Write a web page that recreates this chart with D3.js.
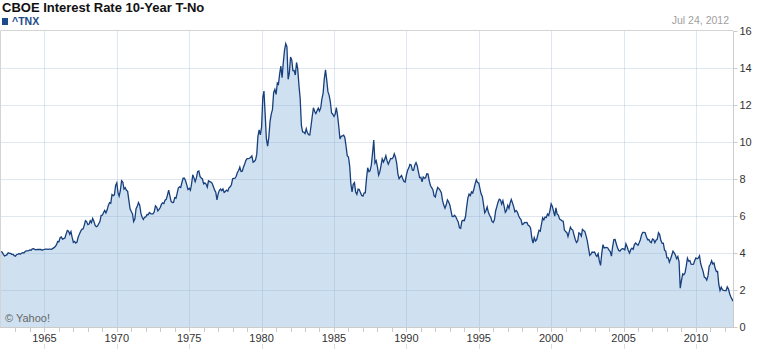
<!DOCTYPE html>
<html>
<head>
<meta charset="utf-8">
<script src="https://cdn.jsdelivr.net/npm/d3@7"></script>
<style>
  body { margin: 0; background: #fff; }
  text { font-family: Arial, "Liberation Sans", sans-serif; }
</style>
</head>
<body>
<script>
// ^TNX monthly closes, Jan 1962 .. Jul 2012
var startYear = 1962;
var tnxValues = [
  4.08, 4.04, 3.93, 3.84, 3.87, 3.91, 4.01, 3.98, 3.98, 3.93, 3.92, 3.86, // 1962
  3.83, 3.92, 3.93, 3.97, 3.93, 3.99, 4.02, 4.00, 4.08, 4.11, 4.12, 4.13, // 1963
  4.17, 4.15, 4.22, 4.23, 4.20, 4.17, 4.19, 4.19, 4.20, 4.19, 4.15, 4.18, // 1964
  4.19, 4.21, 4.21, 4.20, 4.21, 4.21, 4.20, 4.25, 4.29, 4.35, 4.45, 4.62, // 1965
  4.61, 4.83, 4.87, 4.75, 4.78, 4.81, 5.02, 5.22, 5.18, 5.01, 5.16, 4.84, // 1966
  4.58, 4.63, 4.54, 4.59, 4.85, 5.02, 5.16, 5.28, 5.30, 5.48, 5.75, 5.70, // 1967
  5.53, 5.56, 5.74, 5.64, 5.87, 5.72, 5.50, 5.42, 5.46, 5.58, 5.70, 6.03, // 1968
  6.04, 6.19, 6.30, 6.17, 6.32, 6.57, 6.72, 6.69, 7.16, 7.10, 7.14, 7.65, // 1969
  7.79, 7.24, 7.07, 7.39, 7.91, 7.84, 7.46, 7.53, 7.39, 7.33, 6.84, 6.39, // 1970
  6.24, 6.11, 5.70, 5.83, 6.39, 6.52, 6.73, 6.58, 6.14, 5.93, 5.81, 5.93, // 1971
  5.95, 6.08, 6.07, 6.19, 6.13, 6.11, 6.11, 6.21, 6.55, 6.48, 6.28, 6.36, // 1972
  6.46, 6.64, 6.71, 6.67, 6.85, 6.90, 7.13, 7.40, 7.09, 6.79, 6.73, 6.74, // 1973
  6.99, 6.96, 7.21, 7.51, 7.58, 7.54, 7.81, 8.04, 8.04, 7.90, 7.68, 7.43, // 1974
  7.50, 7.39, 7.73, 8.23, 8.06, 7.86, 8.06, 8.40, 8.43, 8.14, 8.05, 8.00, // 1975
  7.74, 7.79, 7.73, 7.56, 7.90, 7.86, 7.83, 7.77, 7.59, 7.41, 7.29, 6.87, // 1976
  7.21, 7.39, 7.46, 7.37, 7.46, 7.28, 7.33, 7.40, 7.34, 7.52, 7.58, 7.69, // 1977
  8.01, 8.03, 8.04, 8.15, 8.35, 8.46, 8.64, 8.41, 8.42, 8.64, 8.81, 9.01, // 1978
  9.10, 9.10, 9.12, 9.18, 9.25, 8.91, 8.95, 9.03, 9.33, 10.30, 10.65, 10.39, // 1979
  10.80, 12.41, 12.75, 11.47, 10.18, 9.78, 10.25, 11.10, 11.51, 11.75, 12.68, 12.84, // 1980
  12.57, 13.19, 13.12, 13.68, 14.10, 13.47, 14.28, 14.94, 15.32, 15.15, 13.39, 13.72, // 1981
  14.59, 14.43, 13.86, 13.87, 13.62, 14.30, 13.95, 13.06, 12.34, 10.91, 10.55, 10.54, // 1982
  10.46, 10.72, 10.51, 10.40, 10.38, 10.85, 11.38, 11.85, 11.65, 11.54, 11.69, 11.83, // 1983
  11.67, 11.84, 12.32, 12.63, 13.41, 13.90, 13.36, 12.72, 12.52, 12.16, 11.57, 11.50, // 1984
  11.38, 11.51, 11.86, 11.43, 10.85, 10.16, 10.31, 10.33, 10.37, 10.24, 9.78, 9.26, // 1985
  9.19, 8.70, 7.78, 7.30, 7.71, 7.80, 7.30, 7.17, 7.45, 7.43, 7.25, 7.11, // 1986
  7.08, 7.25, 7.25, 8.02, 8.61, 8.40, 8.45, 8.76, 9.42, 10.10, 8.86, 8.99, // 1987
  8.67, 8.21, 8.37, 8.72, 9.09, 8.92, 9.06, 9.26, 8.98, 8.80, 8.96, 9.11, // 1988
  9.09, 9.17, 9.36, 9.18, 8.86, 8.28, 8.02, 8.11, 8.19, 8.01, 7.87, 7.84, // 1989
  8.21, 8.47, 8.59, 8.79, 8.76, 8.48, 8.47, 8.75, 8.89, 8.72, 8.39, 8.08, // 1990
  8.09, 7.85, 8.11, 8.04, 8.07, 8.28, 8.27, 7.90, 7.65, 7.53, 7.42, 7.09, // 1991
  7.03, 7.34, 7.54, 7.48, 7.39, 7.26, 6.84, 6.59, 6.42, 6.59, 6.87, 6.77, // 1992
  6.60, 6.26, 5.98, 5.97, 6.04, 5.96, 5.81, 5.68, 5.36, 5.33, 5.72, 5.77, // 1993
  5.75, 5.97, 6.48, 6.97, 7.18, 7.10, 7.30, 7.24, 7.46, 7.74, 7.96, 7.81, // 1994
  7.78, 7.47, 7.20, 7.06, 6.63, 6.17, 6.28, 6.49, 6.20, 6.04, 5.93, 5.71, // 1995
  5.65, 5.81, 6.27, 6.51, 6.74, 6.91, 6.87, 6.64, 6.83, 6.53, 6.20, 6.30, // 1996
  6.58, 6.42, 6.69, 6.89, 6.71, 6.49, 6.22, 6.30, 6.21, 6.03, 5.88, 5.81, // 1997
  5.54, 5.57, 5.65, 5.64, 5.65, 5.50, 5.46, 5.34, 4.81, 4.53, 4.83, 4.65, // 1998
  4.72, 5.00, 5.23, 5.18, 5.54, 5.90, 5.79, 5.94, 5.92, 6.11, 6.03, 6.28, // 1999
  6.66, 6.52, 6.26, 5.99, 6.44, 6.10, 6.05, 5.83, 5.80, 5.74, 5.72, 5.24, // 2000
  5.16, 5.10, 4.89, 5.14, 5.39, 5.28, 5.24, 4.97, 4.73, 4.57, 4.65, 5.09, // 2001
  5.04, 4.91, 5.28, 5.21, 5.16, 4.93, 4.65, 4.26, 3.87, 3.94, 4.05, 4.03, // 2002
  4.05, 3.90, 3.81, 3.96, 3.57, 3.33, 3.98, 4.45, 4.27, 4.29, 4.30, 4.27, // 2003
  4.15, 4.08, 3.83, 4.35, 4.72, 4.73, 4.50, 4.28, 4.13, 4.10, 4.19, 4.23, // 2004
  4.22, 4.17, 4.50, 4.34, 4.14, 4.00, 4.18, 4.26, 4.20, 4.46, 4.54, 4.47, // 2005
  4.42, 4.57, 4.72, 4.99, 5.11, 5.11, 5.09, 4.88, 4.72, 4.73, 4.60, 4.56, // 2006
  4.76, 4.72, 4.56, 4.69, 4.75, 5.10, 5.00, 4.67, 4.52, 4.53, 4.15, 4.10, // 2007
  3.74, 3.74, 3.51, 3.68, 3.88, 4.10, 4.01, 3.89, 3.69, 3.81, 3.53, 2.10, // 2008
  2.52, 2.87, 2.82, 2.93, 3.29, 3.72, 3.56, 3.59, 3.40, 3.39, 3.40, 3.59, // 2009
  3.73, 3.69, 3.73, 3.85, 3.42, 3.20, 3.01, 2.70, 2.65, 2.54, 2.76, 3.29, // 2010
  3.39, 3.58, 3.41, 3.46, 3.17, 3.00, 3.00, 2.30, 1.98, 2.15, 2.01, 1.98, // 2011
  1.97, 1.97, 2.17, 2.05, 1.80, 1.62, 1.40                                // 2012
];
var lastDate = new Date(2012, 6, 24);

var yTicks = [0, 2, 4, 6, 8, 10, 12, 14, 16];
var xLabelYears = [1965, 1970, 1975, 1980, 1985, 1990, 1995, 2000, 2005, 2010];

var titleText = "CBOE Interest Rate 10-Year T-No";
var seriesName = "^TNX";
var dateText = "Jul 24, 2012";

// build points
var dataset = tnxValues.map(function(v, i) {
  var d = new Date(startYear, i, 1);
  if (i === tnxValues.length - 1) d = lastDate;
  return { date: d, value: v };
});

var w = 762, h = 349;
var plotLeft = 1, plotRight = 733, plotTop = 31, plotBottom = 327;

var svg = d3.select("body").append("svg")
  .attr("width", w)
  .attr("height", h);

var x = d3.scaleTime()
  .domain([new Date(startYear, 0, 1), lastDate])
  .range([plotLeft, plotRight]);

var y = d3.scaleLinear()
  .domain([0, 16])
  .range([plotBottom, plotTop]);

function xYear(yr) { return Math.round(x(new Date(yr, 0, 1))) + 0.5; }

// area + line
var area = d3.area()
  .x(function(d) { return x(d.date); })
  .y0(y(0))
  .y1(function(d) { return y(d.value); });

var line = d3.line()
  .x(function(d) { return x(d.date); })
  .y(function(d) { return y(d.value); });

svg.append("path")
  .datum(dataset)
  .attr("d", area)
  .attr("fill", "#cfe1f0");

// grid lines over the fill (semi transparent so they darken inside the area)
var grid = svg.append("g");
grid.selectAll(".hgrid")
  .data(yTicks.filter(function(t) { return t > 0 && t < 16; }))
  .enter().append("line")
  .attr("x1", plotLeft).attr("x2", plotRight)
  .attr("y1", function(d) { return Math.round(y(d)) + 0.5; })
  .attr("y2", function(d) { return Math.round(y(d)) + 0.5; })
  .style("stroke", "rgba(140,170,205,0.28)");

grid.selectAll(".vgrid")
  .data(xLabelYears)
  .enter().append("line")
  .attr("x1", xYear)
  .attr("x2", xYear)
  .attr("y1", plotTop).attr("y2", plotBottom)
  .style("stroke", "rgba(140,170,205,0.28)");

svg.append("path")
  .datum(dataset)
  .attr("d", line)
  .attr("fill", "none")
  .attr("stroke", "#173f7c")
  .attr("stroke-width", 1.3)
  .attr("stroke-linejoin", "miter");

// frame
svg.append("line").attr("x1", plotLeft - 0.5).attr("x2", plotRight).attr("y1", plotTop - 0.5).attr("y2", plotTop - 0.5)
  .style("stroke", "#d4d4d4");
svg.append("line").attr("x1", plotLeft - 0.5).attr("x2", plotLeft - 0.5).attr("y1", plotTop - 0.5).attr("y2", plotBottom)
  .style("stroke", "#d4d4d4");

// right axis
var yAxis = d3.axisRight(y)
  .tickValues(yTicks)
  .tickSize(4)
  .tickPadding(2)
  .tickFormat(d3.format("d"));

var yg = svg.append("g")
  .attr("transform", "translate(" + (plotRight + 0.5) + ",0)")
  .call(yAxis);
yg.select(".domain").attr("stroke", "#cccccc").attr("d", "M0," + plotTop + "V" + (plotBottom + 1));
yg.selectAll(".tick line").attr("stroke", "#cccccc");
yg.selectAll(".tick text")
  .attr("fill", "#333")
  .style("font-size", "11px")
  .style("font-family", "Arial, 'Liberation Sans', sans-serif");

// bottom axis: yearly minor ticks, 5-year labels
var allYears = d3.range(startYear + 1, 2013);
var xg = svg.append("g");
xg.append("line")
  .attr("x1", plotLeft - 1).attr("x2", plotRight + 1)
  .attr("y1", plotBottom + 0.5).attr("y2", plotBottom + 0.5)
  .style("stroke", "#cccccc");
xg.selectAll(".minor")
  .data(allYears)
  .enter().append("line")
  .attr("x1", xYear)
  .attr("x2", xYear)
  .attr("y1", plotBottom + 1)
  .attr("y2", plotBottom + 5)
  .style("stroke", "#cccccc");
xg.selectAll(".major")
  .data(xLabelYears)
  .enter().append("line")
  .attr("x1", xYear)
  .attr("x2", xYear)
  .attr("y1", plotBottom + 17)
  .attr("y2", h)
  .style("stroke", "#dddddd");
xg.selectAll("text")
  .data(xLabelYears)
  .enter().append("text")
  .text(function(d) { return d; })
  .attr("x", function(d) { return x(new Date(d, 0, 1)); })
  .attr("y", 342)
  .attr("text-anchor", "middle")
  .attr("font-size", 11)
  .attr("fill", "#333");

// header
svg.append("text")
  .text(titleText)
  .attr("x", 2).attr("y", 12)
  .attr("font-size", 13)
  .attr("font-weight", "bold")
  .attr("fill", "#111");

svg.append("rect")
  .attr("x", 2).attr("y", 18)
  .attr("width", 6).attr("height", 7)
  .attr("fill", "#1d4a8a");

svg.append("text")
  .text(seriesName)
  .attr("x", 12).attr("y", 25)
  .attr("font-size", 10.5)
  .attr("font-weight", "bold")
  .attr("fill", "#1d4a8a");

svg.append("text")
  .text(dateText)
  .attr("x", 729).attr("y", 24)
  .attr("text-anchor", "end")
  .attr("font-size", 10.5)
  .attr("fill", "#a0a0a0");

svg.append("text")
  .text("\u00a9 Yahoo!")
  .attr("x", 5).attr("y", 322)
  .attr("font-size", 11)
  .attr("fill", "#666");
</script>
</body>
</html>
